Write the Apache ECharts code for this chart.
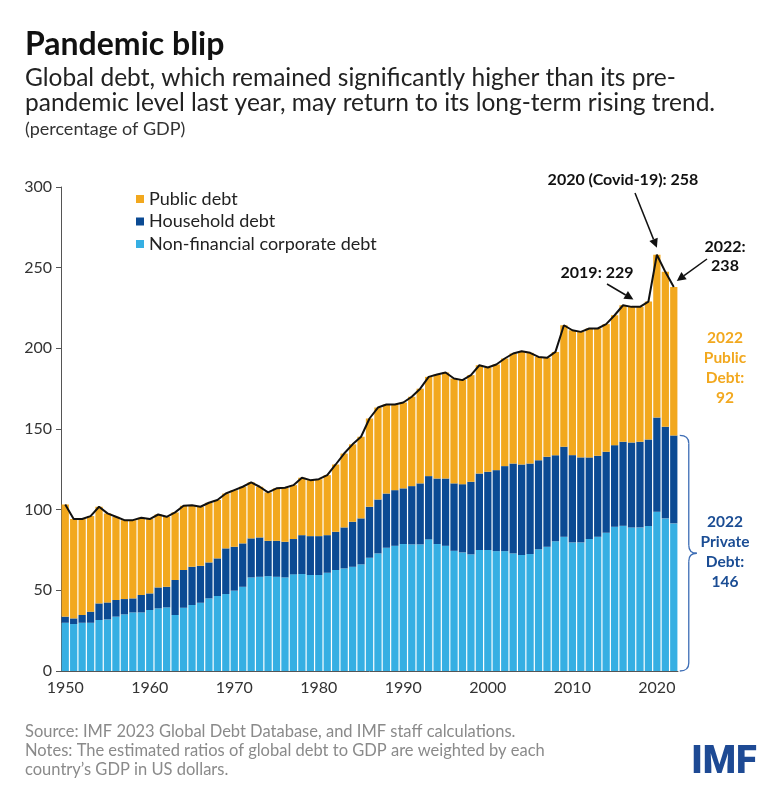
<!DOCTYPE html>
<html>
<head>
<meta charset="utf-8">
<script src="https://cdn.jsdelivr.net/npm/echarts@6/dist/echarts.min.js"></script>
<style>
  html, body { margin: 0; padding: 0; background: #fff; }
  #chart { width: 768px; height: 791px; }
</style>
</head>
<body>
<div id="chart"></div>
<script>
// years on the x axis
var years = ['1950','1951','1952','1953','1954','1955','1956','1957','1958','1959',
  '1960','1961','1962','1963','1964','1965','1966','1967','1968','1969',
  '1970','1971','1972','1973','1974','1975','1976','1977','1978','1979',
  '1980','1981','1982','1983','1984','1985','1986','1987','1988','1989',
  '1990','1991','1992','1993','1994','1995','1996','1997','1998','1999',
  '2000','2001','2002','2003','2004','2005','2006','2007','2008','2009',
  '2010','2011','2012','2013','2014','2015','2016','2017','2018','2019',
  '2020','2021','2022'];

// percentage of GDP
var corporate = [29.9,29.1,29.9,29.9,31.6,32,33.7,35.1,36.3,36.3,
  37.8,38.8,39.4,34.7,39.2,40.9,42.3,45,46.5,47.7,
  49.8,52.2,58,58.4,58.8,58.4,58,59.9,60.1,59.5,
  59.5,60.9,62.6,63.6,64.6,66.1,70.2,72.9,76.4,77.6,
  78.7,78.5,78.5,81.6,78.7,77.6,74.5,73.5,72.3,75,
  75,74.3,74.3,72.9,71.9,72.5,75.4,77,80.5,83.2,
  79.7,79.7,81.8,83.2,85.7,89.4,90,89,89,89.8,
  98.7,94.6,91.5];

var household = [3.8,3.5,4.8,6.9,10.3,10.5,10.3,9.5,8.7,10.8,
  10.3,13,12.8,21.7,23.4,23.7,22.9,22.3,23.3,28.3,
  27.2,26.9,24.2,24.4,21.9,22.3,22.1,21.9,24.1,24.1,
  24.1,23.3,23.7,25.4,27.9,28.5,31.6,33.4,33.6,34.5,
  34.5,36.1,37.8,39.2,40.6,41.7,41.8,42.3,45,47.4,
  48.5,50.2,52.7,55.7,56.1,56.1,55.3,55.8,53.3,55.8,
  54.1,52.7,50.6,50.2,50.2,50.6,52.1,52.6,53.1,53.7,
  58.4,56.8,54.5];

var publicDebt = [69.5,61.6,59.5,59.2,59.9,55.2,51.6,48.9,48.5,47.9,
  46.1,45.2,43.4,41.9,39.8,38.2,36.6,37,36.2,34,
  35.1,35.1,34.7,31.4,30,32.5,33.5,33.4,35.6,34.7,
  35.3,37.2,41.7,45.8,48,50.6,54.7,57,55.2,53.1,
  53.2,55.4,58.7,61.5,64.5,65.7,65,64.5,66.1,67.1,
  64.6,65.5,66.7,68.2,70.2,68.6,64,61.3,64,75.3,
  77.4,77.8,79.9,78.9,79.1,80.5,84.6,84.1,83.6,85.5,
  100.9,96,92];

var total = [103.2,94.2,94.2,96,101.8,97.7,95.6,93.5,93.5,95,
  94.2,97,95.6,98.3,102.4,102.8,101.8,104.3,106,110,
  112.1,114.2,116.9,114.2,110.7,113.2,113.6,115.2,119.8,118.3,
  118.9,121.4,128,134.8,140.5,145.2,156.5,163.3,165.2,165.2,
  166.4,170,175,182.3,183.8,185,181.3,180.3,183.4,189.5,
  188.1,190,193.7,196.8,198.2,197.2,194.7,194.1,197.8,214.3,
  211.2,210.2,212.3,212.3,215,220.5,226.7,225.7,225.7,229,
  258,247.4,238];

var FONT = 'Lato, "Noto Sans", sans-serif';
var ORANGE = '#F2A81E', NAVY = '#0B4A93', SKY = '#36AFE3';

var chart = echarts.init(document.getElementById('chart'));

var everyTen = function (i, v) { return (+v) % 10 === 0; };

chart.setOption({
  animation: false,
  textStyle: { fontFamily: FONT },
  grid: { left: 61, right: 90, top: 187, bottom: 120 },
  legend: {
    data: ['Public debt', 'Household debt', 'Non-financial corporate debt'],
    orient: 'vertical', left: 131, top: 185,
    icon: 'rect', itemWidth: 8, itemHeight: 8, itemGap: 4.5,
    selectedMode: false,
    textStyle: { fontSize: 18, color: '#222', lineHeight: 18 }
  },
  xAxis: {
    type: 'category', data: years,
    axisLine: { lineStyle: { color: '#555' } },
    axisTick: { alignWithLabel: true, interval: everyTen, length: 5, lineStyle: { color: '#555' } },
    axisLabel: { interval: everyTen, fontSize: 16, color: '#333', margin: 9 }
  },
  yAxis: {
    type: 'value', min: 0, max: 300, interval: 50,
    axisLine: { show: true, lineStyle: { color: '#555' } },
    axisTick: { show: true, length: 5, lineStyle: { color: '#555' } },
    splitLine: { show: false },
    axisLabel: { fontSize: 16, color: '#333', margin: 9 }
  },
  series: [
    { name: 'Non-financial corporate debt', type: 'bar', stack: 'debt', data: corporate,
      barCategoryGap: '14%', itemStyle: { color: SKY } },
    { name: 'Household debt', type: 'bar', stack: 'debt', data: household, itemStyle: { color: NAVY } },
    { name: 'Public debt', type: 'bar', stack: 'debt', data: publicDebt, itemStyle: { color: ORANGE } },
    { name: 'Total', type: 'line', data: total, symbol: 'none', z: 5,
      lineStyle: { color: '#111', width: 2 } }
  ]
});

// annotation helpers
function px(year, v) { return chart.convertToPixel({ gridIndex: 0 }, [year, v]); }

function arrow(x1, y1, x2, y2) {
  var dx = x2 - x1, dy = y2 - y1, len = Math.sqrt(dx * dx + dy * dy);
  var ux = dx / len, uy = dy / len, hl = 9, hw = 4.5;
  var bx = x2 - ux * hl, by = y2 - uy * hl;
  return [
    { type: 'line', z: 10, shape: { x1: x1, y1: y1, x2: bx, y2: by }, style: { stroke: '#111', lineWidth: 1.5 } },
    { type: 'polygon', z: 10, shape: { points: [[x2, y2], [bx - uy * hw, by + ux * hw], [bx + uy * hw, by - ux * hw]] },
      style: { fill: '#111' } }
  ];
}

function txt(x, y, s, size, weight, color, align, lh) {
  return { type: 'text', x: x, y: y, z: 10,
    style: { text: s, fontSize: size, fontWeight: weight, fontFamily: FONT, fill: color,
      align: align || 'left', verticalAlign: 'middle', lineHeight: lh || size * 1.2 } };
}

var p20 = px('2020', 258), p19 = px('2019', 229), p22 = px('2022', 238);
var bTop = px('2022', 146)[1], bBot = px('2022', 0)[1], bMid = (bTop + bBot) / 2;
var bx0 = p22[0] + 6, bx1 = bx0 + 9, bx2 = bx0 + 17;
var braceStyle = { stroke: '#3D6DB5', lineWidth: 1.3, fill: null };

function curve(x1, y1, cx, cy, x2, y2) {
  return { type: 'bezierCurve', z: 10, shape: { x1: x1, y1: y1, cpx1: cx, cpy1: cy, x2: x2, y2: y2 }, style: braceStyle };
}
function seg(x1, y1, x2, y2) {
  return { type: 'line', z: 10, shape: { x1: x1, y1: y1, x2: x2, y2: y2 }, style: braceStyle };
}

var g = [
  txt(25, 45, 'Pandemic blip', 32, 'bold', '#111'),
  txt(25, 78, 'Global debt, which remained significantly higher than its pre-', 24.5, 'normal', '#222'),
  txt(25, 103, 'pandemic level last year, may return to its long-term rising trend.', 24.5, 'normal', '#222'),
  txt(25, 129, '(percentage of GDP)', 18, 'normal', '#333'),

  txt(623, 180, '2020 (Covid-19): 258', 16, 'bold', '#111', 'center'),
  txt(597, 273, '2019: 229', 16, 'bold', '#111', 'center'),
  txt(725, 256, '2022:\n238', 16, 'bold', '#111', 'center', 19),

  txt(725, 368, '2022\nPublic\nDebt:\n92', 15.5, 'bold', ORANGE, 'center', 20),
  txt(725, 552, '2022\nPrivate\nDebt:\n146', 15.5, 'bold', '#1B4D94', 'center', 20),

  curve(bx0, bTop, bx1, bTop, bx1, bTop + 8),
  seg(bx1, bTop + 8, bx1, bMid - 8),
  curve(bx1, bMid - 8, bx1, bMid, bx2, bMid),
  curve(bx2, bMid, bx1, bMid, bx1, bMid + 8),
  seg(bx1, bMid + 8, bx1, bBot - 8),
  curve(bx1, bBot - 8, bx1, bBot, bx0, bBot),

  txt(25, 732, 'Source: IMF 2023 Global Debt Database, and IMF staff calculations.', 16.5, 'normal', '#8a8a8a'),
  txt(25, 751, 'Notes: The estimated ratios of global debt to GDP are weighted by each', 16.5, 'normal', '#8a8a8a'),
  txt(25, 770, 'country\u2019s GDP in US dollars.', 16.5, 'normal', '#8a8a8a'),
  { type: 'text', x: 724, y: 763, z: 10,
    style: { text: 'IMF', fontSize: 38, fontWeight: 900, fontFamily: 'Roboto, sans-serif', fill: '#1E4A94',
      align: 'center', verticalAlign: 'middle' } }
];

g = g.concat(arrow(635, 193, p20[0], p20[1] - 7));
g = g.concat(arrow(607, 284, p19[0] - 15, p19[1] - 2));
g = g.concat(arrow(707, 259, p22[0] + 3, p22[1] - 6));

chart.setOption({ graphic: g });
</script>
</body>
</html>
